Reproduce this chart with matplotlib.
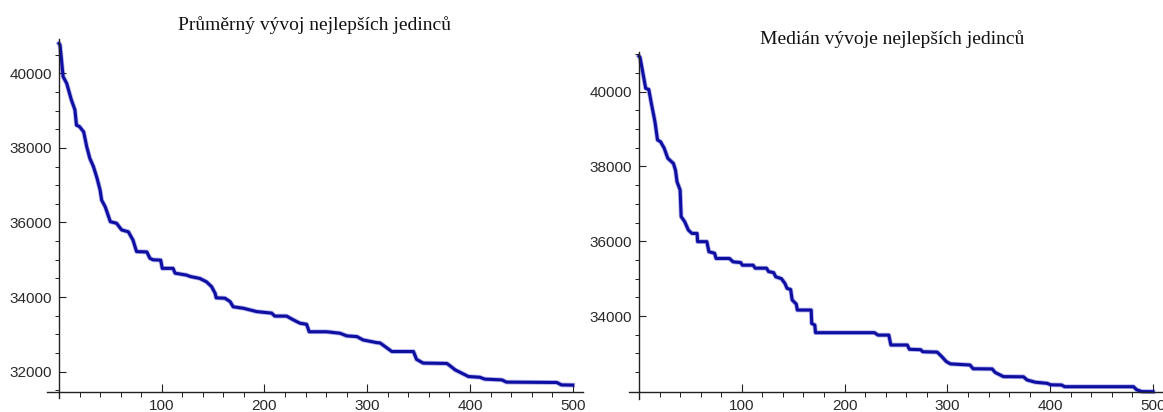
import matplotlib
matplotlib.use('Agg')
import matplotlib.pyplot as plt
from matplotlib.ticker import FixedLocator, FuncFormatter

# průměr fitness nejlepšího jedince v generaci
prumer_gen = [0, 1, 4, 7.5, 12, 15.5, 17, 20, 24, 27, 30, 33.5, 37, 40, 41.5, 45, 50, 56, 61,
              67.5, 72, 75.5, 85.5, 88.5, 91.5, 99, 100.5, 111, 113, 124, 128, 137, 143.5,
              148.5, 152, 153, 161.5, 166.5, 169.5, 179.5, 192.5, 207, 210, 221.5, 228,
              234.5, 241, 243.5, 260.5, 273.5, 280, 290, 296, 309, 312.5, 317.5, 324, 345,
              348, 354.5, 377.5, 380.5, 385.5, 392, 398.5, 409.5, 414.5, 431, 435.5, 484.5,
              489, 500]
prumer_fit = [40800, 40760, 39910, 39730, 39290, 39020, 38610, 38570, 38430, 38030, 37720,
              37500, 37190, 36870, 36600, 36420, 36020, 35980, 35800, 35750, 35530, 35220,
              35210, 35040, 35000, 34990, 34770, 34770, 34640, 34590, 34550, 34500, 34410,
              34280, 34100, 33980, 33970, 33880, 33740, 33700, 33610, 33570, 33490, 33490,
              33390, 33300, 33270, 33070, 33070, 33030, 32960, 32940, 32850, 32780, 32770,
              32670, 32540, 32540, 32330, 32230, 32220, 32160, 32050, 31960, 31870, 31850,
              31800, 31780, 31720, 31710, 31645, 31640]

# medián fitness nejlepšího jedince v generaci
median_gen = [0, 1, 3, 6.5, 9.5, 12, 15.5, 18, 21, 24.5, 28, 33.5, 35.5, 37, 40, 41, 44.5,
              48, 51.5, 56.5, 57, 66, 68, 73.5, 75, 88, 91.5, 99, 100.5, 111, 113, 124, 126,
              131, 133, 138.5, 142, 144, 147.5, 149, 153, 154, 167.5, 168, 171, 171.7, 229,
              232.5, 243, 245, 261, 263, 274, 276, 290, 294, 299, 303, 322, 325, 343.5,
              346.5, 354.5, 374, 377.5, 385.5, 397, 400.5, 411, 414, 481, 484, 489, 500]
median_fit = [40950, 40918, 40620, 40090, 40060, 39690, 39200, 38710, 38660, 38490, 38220,
              38080, 37900, 37590, 37370, 36660, 36520, 36300, 36210, 36210, 35990, 35990,
              35720, 35680, 35540, 35540, 35450, 35430, 35360, 35360, 35280, 35280, 35190,
              35160, 35050, 35000, 34870, 34740, 34710, 34430, 34320, 34160, 34160, 33800,
              33760, 33555, 33555, 33490, 33490, 33225, 33225, 33110, 33100, 33045, 33035,
              32930, 32780, 32720, 32690, 32590, 32585, 32490, 32380, 32375, 32290, 32230,
              32200, 32160, 32155, 32110, 32110, 32030, 31980, 31976]

x_major = [100, 200, 300, 400, 500]
x_minor = [v for v in range(20, 501, 20) if v % 100]

fig = plt.figure(figsize=(11.63, 4.12), dpi=100)


def panel(rect, xs, ys, xlim, ylim, y0, y_major, y_minor):
    ax = fig.add_axes(rect)
    ax.patch.set_visible(False)
    ax.plot(xs, ys, color='#b0b0ee', lw=3.4, zorder=1.5)
    ax.plot(xs, ys, color='#0e0ea0', lw=2.2, zorder=2)
    ax.set_xlim(*xlim)
    ax.set_ylim(*ylim)
    ax.spines['top'].set_visible(False)
    ax.spines['right'].set_visible(False)
    ax.spines['left'].set_position(('data', 0))
    ax.spines['bottom'].set_position(('data', y0))
    for s in ('left', 'bottom'):
        ax.spines[s].set_linewidth(1.0)
        ax.spines[s].set_color('#222222')
    ax.xaxis.set_major_locator(FixedLocator(x_major))
    ax.xaxis.set_minor_locator(FixedLocator(x_minor))
    ax.yaxis.set_major_locator(FixedLocator(y_major))
    ax.yaxis.set_minor_locator(FixedLocator(y_minor))
    ax.yaxis.set_major_formatter(FuncFormatter(lambda v, p: '%d' % v))
    ax.tick_params(direction='in', colors='#222222', labelcolor='#2a2a2a',
                   labelsize=11, pad=5, width=0.8)
    ax.tick_params(axis='x', which='major', length=6)
    ax.tick_params(axis='x', which='minor', length=3.6)
    ax.tick_params(axis='y', which='major', length=5)
    ax.tick_params(axis='y', which='minor', length=2.8)
    for lab in ax.get_xticklabels() + ax.get_yticklabels():
        lab.set_family('Liberation Sans')
    return ax


panel([0.04015, 0.03325, 0.4614, 0.8714], prumer_gen, prumer_fit,
      (-11.97, 510.3), (31286, 40912), 31464,
      [32000, 34000, 36000, 38000, 40000],
      [v for v in range(31500, 40501, 500) if v % 2000])

panel([0.54084, 0.03155, 0.45916, 0.84296], median_gen, median_fit,
      (-9.73, 509.7), (31781, 41070), 31976,
      [34000, 36000, 38000, 40000],
      [v for v in range(32500, 41001, 500) if v % 2000])

fig.text(314.5 / 1163, 1 - 25 / 412, 'Průměrný vývoj nejlepších jedinců',
         ha='center', va='center', family='Liberation Serif', fontsize=14, color='#111111')
fig.text(892 / 1163, 1 - 39.5 / 412, 'Medián vývoje nejlepších jedinců',
         ha='center', va='center', family='Liberation Serif', fontsize=14, color='#111111')

fig.savefig('out.png', dpi=100)
